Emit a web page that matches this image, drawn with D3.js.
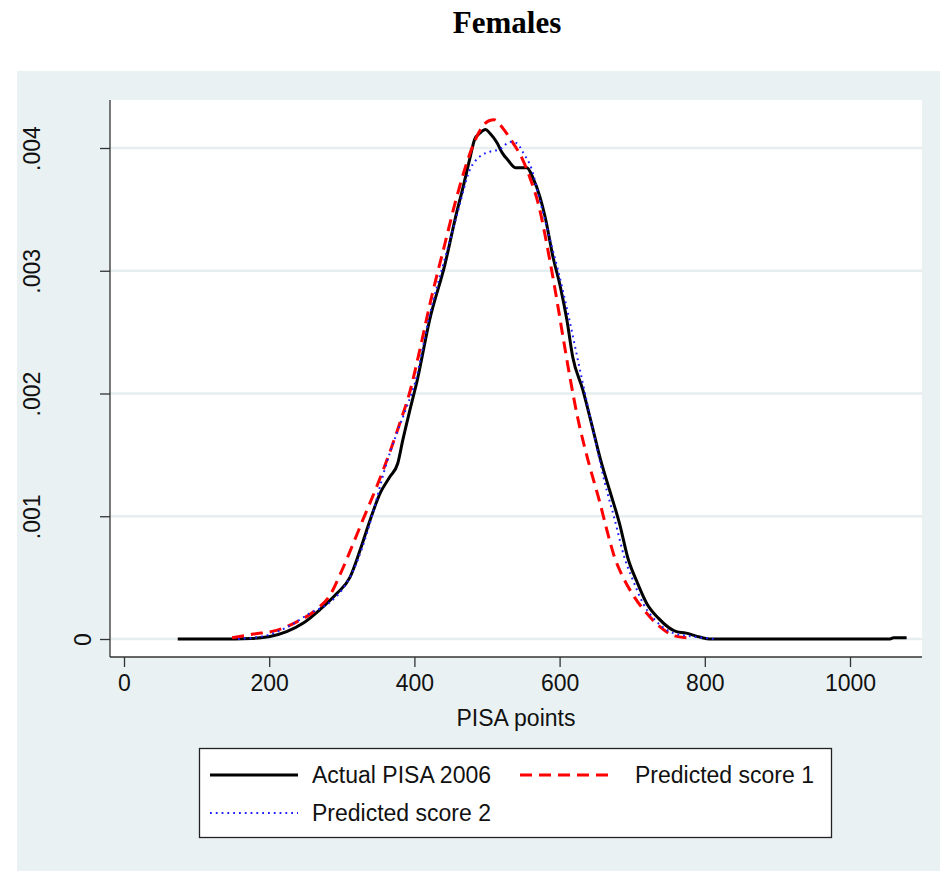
<!DOCTYPE html>
<html><head><meta charset="utf-8">
<script src="https://cdn.jsdelivr.net/npm/d3@7"></script>
<style>body{margin:0;background:#fff}svg{display:block}</style>
</head><body>
<script>
// ---- data ----
const xTicks = [0, 200, 400, 600, 800, 1000];
const yTicks = [0, 0.001, 0.002, 0.003, 0.004];
const yTickLabels = ["0", ".001", ".002", ".003", ".004"];
const seriesNames = ["Actual PISA 2006", "Predicted score 1", "Predicted score 2"];

const actualX = [74,130,175,201,224,247,270,293,311,325,339,353,366,377,384,394,404,421,442,458,467,477,483,490,498,504,514,521,529,539,555,563,573,580,591,601,610,618,632,645,656,669,683,694,707,720,736,761,773,793,807,1055,1060,1078];
const actualY = [0,0,0.000005,0.00002,0.00006,0.00013,0.00024,0.00037,0.0005,0.00072,0.00097,0.00119,0.00132,0.00143,0.00162,0.00187,0.00211,0.0026,0.00305,0.00347,0.00368,0.00393,0.00407,0.00412,0.00415,0.00412,0.00404,0.00396,0.0039,0.00384,0.00384,0.00376,0.0036,0.00344,0.00311,0.00287,0.0026,0.0023,0.00203,0.00173,0.00147,0.00121,0.00093,0.00066,0.00046,0.00029,0.00017,0.00006,0.00005,0.000016,0,0,0.00001,0.00001];

const pred1X = [149,178,210,238,265,284,298,311,329,348,366,380,394,408,421,442,456,470,482,492,502,510,518,527,536,548,559,570,587,596,605,614,625,639,656,665,676,686,701,720,738,756,775];
const pred1Y = [0.00001,0.00004,0.00007,0.00014,0.00024,0.00036,0.00053,0.00071,0.00097,0.00124,0.00152,0.00176,0.00202,0.00237,0.00272,0.00322,0.00355,0.00384,0.00404,0.00416,0.00422,0.00423,0.00419,0.00412,0.00404,0.00392,0.00376,0.00356,0.00307,0.00277,0.00245,0.00214,0.0018,0.00146,0.0011,0.00089,0.00066,0.00052,0.00036,0.00021,0.0001,0.00003,0.00001];

const pred2X = [157,197,229,256,284,307,321,334,343,360,376,390,401,421,442,458,477,490,504,518,532,541,550,562,570,587,598,612,621,631,641,651,662,676,690,701,715,734,756,784,814];
const pred2Y = [0,0.00003,0.00011,0.00021,0.0003,0.00046,0.00063,0.00085,0.00103,0.0014,0.00168,0.0019,0.00209,0.00264,0.0031,0.00344,0.00383,0.00393,0.00397,0.00399,0.00405,0.00404,0.00396,0.00382,0.00364,0.00325,0.003,0.00264,0.00239,0.00211,0.00184,0.00157,0.00128,0.00097,0.00065,0.00048,0.00029,0.00014,0.00005,0.00002,0];

// ---- layout ----
const W = 940, H = 871;
const svg = d3.select("body").append("svg").attr("width", W).attr("height", H);
const FONT = "'Liberation Sans', Arial, Helvetica, sans-serif";

svg.append("rect").attr("x",0).attr("y",0).attr("width",W).attr("height",H).attr("fill","#ffffff");
svg.append("rect").attr("x",17).attr("y",71).attr("width",W-17).attr("height",H-71).attr("fill","#e9f1f3");

const plot = {left:110, right:922, top:100, bottom:657};
const x = d3.scaleLinear().domain([0,1000]).range([124, 850]);
const y = d3.scaleLinear().domain([0,0.004]).range([639, 148]);

svg.append("rect").attr("x",plot.left).attr("y",plot.top)
  .attr("width",plot.right-plot.left).attr("height",plot.bottom-plot.top).attr("fill","#ffffff");

// gridlines
svg.append("g").selectAll("line").data(yTicks).join("line")
  .attr("x1",plot.left).attr("x2",plot.right)
  .attr("y1",d=>y(d)).attr("y2",d=>y(d))
  .attr("stroke","#e6eef0").attr("stroke-width",2.5);

// title
svg.append("text").attr("x",507).attr("y",33).attr("text-anchor","middle")
  .attr("font-family","'Liberation Serif','Times New Roman',serif").attr("font-weight","bold")
  .attr("font-size",31).attr("fill","#000").text("Females");

// x axis
const xAxis = d3.axisBottom(x).tickValues(xTicks).tickSize(10).tickPadding(8).tickFormat(d3.format("d"));
const gx = svg.append("g").attr("transform",`translate(0,${plot.bottom})`).call(xAxis);
gx.select(".domain").attr("d",`M${plot.left},0H${plot.right}`).attr("stroke","#333").attr("stroke-width",1.3);
gx.selectAll(".tick line").attr("stroke","#333").attr("stroke-width",1.3);
gx.selectAll(".tick text").attr("font-family",FONT).attr("font-size",23).attr("fill","#111");

svg.append("text").attr("x",516).attr("y",726).attr("text-anchor","middle")
  .attr("font-family",FONT).attr("font-size",23).attr("fill","#111").text("PISA points");

// y axis
const yAxis = d3.axisLeft(y).tickValues(yTicks).tickSize(10).tickFormat((d,i)=>yTickLabels[i]);
const gy = svg.append("g").attr("transform",`translate(${plot.left},0)`).call(yAxis);
gy.select(".domain").attr("d",`M0,${plot.top}V${plot.bottom}`).attr("stroke","#333").attr("stroke-width",1.3);
gy.selectAll(".tick line").attr("stroke","#333").attr("stroke-width",1.3);
gy.selectAll(".tick text")
  .attr("font-family",FONT).attr("font-size",23).attr("fill","#111")
  .attr("text-anchor","middle").attr("dy",null).attr("x",null)
  .attr("transform",(d,i)=> `translate(${i===0? -27 : -78},0) rotate(-90)`)
  .attr("dominant-baseline","central");

// lines
const line = d3.line().x(d=>x(d[0])).y(d=>y(d[1])).curve(d3.curveMonotoneX);
const zip = (a,b)=>a.map((v,i)=>[v,b[i]]);
const styles = [
  {color:"#000000", width:3, dash:null},
  {color:"#ff0000", width:3, dash:"12,7"},
  {color:"#1f1fff", width:2, dash:"1.8,4"}
];
const data = [zip(actualX,actualY), zip(pred1X,pred1Y), zip(pred2X,pred2Y)];
svg.append("g").selectAll("path").data(data).join("path")
  .attr("d",line).attr("fill","none")
  .attr("stroke",(d,i)=>styles[i].color)
  .attr("stroke-width",(d,i)=>styles[i].width)
  .attr("stroke-dasharray",(d,i)=>styles[i].dash)
  .attr("stroke-linejoin","round");

// legend
const lg = svg.append("g");
lg.append("rect").attr("x",199.5).attr("y",748.5).attr("width",632).attr("height",89)
  .attr("fill","#fff").attr("stroke","#222").attr("stroke-width",1.3);
const legPos = [{x:210,y:775},{x:520,y:775},{x:210,y:813}];
const legTextX = [312, 635, 312];
seriesNames.forEach((name,i)=>{
  const p = legPos[i];
  lg.append("line").attr("x1",p.x).attr("x2",p.x+88).attr("y1",p.y).attr("y2",p.y)
    .attr("stroke",styles[i].color).attr("stroke-width",styles[i].width)
    .attr("stroke-dasharray",styles[i].dash);
  lg.append("text").attr("x",legTextX[i]).attr("y",p.y+8)
    .attr("font-family",FONT).attr("font-size",23).attr("fill","#111").text(name);
});
</script>
</body></html>
